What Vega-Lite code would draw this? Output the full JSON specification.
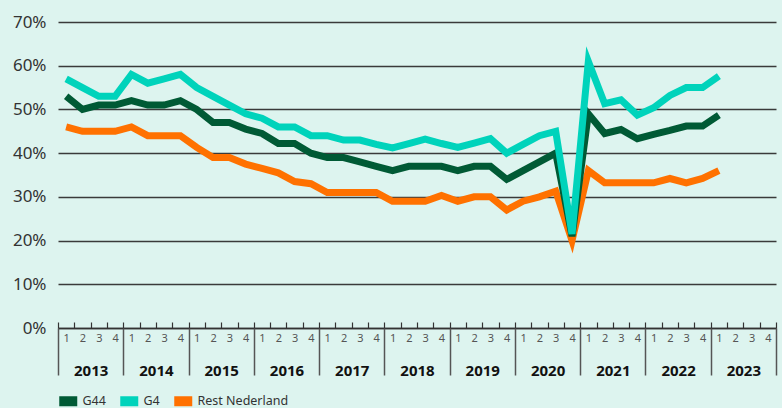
{
  "$schema": "https://vega.github.io/schema/vega-lite/v6.json",
  "width": 718,
  "height": 306,
  "autosize": {"type": "none"},
  "padding": {"left": 58, "top": 22, "right": 6, "bottom": 80},
  "background": "#ddf4ef",
  "config": {"view": {"stroke": null}, "font": "Noto Sans"},
  "layer": [
    {
      "data": {"values": [
        {"q":"2013-1","s":"Rest Nederland","v":46},{"q":"2013-2","s":"Rest Nederland","v":45},{"q":"2013-3","s":"Rest Nederland","v":45},{"q":"2013-4","s":"Rest Nederland","v":45},
        {"q":"2014-1","s":"Rest Nederland","v":46},{"q":"2014-2","s":"Rest Nederland","v":44},{"q":"2014-3","s":"Rest Nederland","v":44},{"q":"2014-4","s":"Rest Nederland","v":44},
        {"q":"2015-1","s":"Rest Nederland","v":41.3},{"q":"2015-2","s":"Rest Nederland","v":39},{"q":"2015-3","s":"Rest Nederland","v":39},{"q":"2015-4","s":"Rest Nederland","v":37.5},
        {"q":"2016-1","s":"Rest Nederland","v":36.5},{"q":"2016-2","s":"Rest Nederland","v":35.5},{"q":"2016-3","s":"Rest Nederland","v":33.5},{"q":"2016-4","s":"Rest Nederland","v":33},
        {"q":"2017-1","s":"Rest Nederland","v":31},{"q":"2017-2","s":"Rest Nederland","v":31},{"q":"2017-3","s":"Rest Nederland","v":31},{"q":"2017-4","s":"Rest Nederland","v":31},
        {"q":"2018-1","s":"Rest Nederland","v":29},{"q":"2018-2","s":"Rest Nederland","v":29},{"q":"2018-3","s":"Rest Nederland","v":29},{"q":"2018-4","s":"Rest Nederland","v":30.3},
        {"q":"2019-1","s":"Rest Nederland","v":29},{"q":"2019-2","s":"Rest Nederland","v":30},{"q":"2019-3","s":"Rest Nederland","v":30},{"q":"2019-4","s":"Rest Nederland","v":27},
        {"q":"2020-1","s":"Rest Nederland","v":29},{"q":"2020-2","s":"Rest Nederland","v":30},{"q":"2020-3","s":"Rest Nederland","v":31.3},{"q":"2020-4","s":"Rest Nederland","v":20},
        {"q":"2021-1","s":"Rest Nederland","v":36},{"q":"2021-2","s":"Rest Nederland","v":33.2},{"q":"2021-3","s":"Rest Nederland","v":33.2},{"q":"2021-4","s":"Rest Nederland","v":33.2},
        {"q":"2022-1","s":"Rest Nederland","v":33.2},{"q":"2022-2","s":"Rest Nederland","v":34.2},{"q":"2022-3","s":"Rest Nederland","v":33.2},{"q":"2022-4","s":"Rest Nederland","v":34.2},
        {"q":"2023-1","s":"Rest Nederland","v":36},
        {"q":"2013-1","s":"G44","v":53},{"q":"2013-2","s":"G44","v":50},{"q":"2013-3","s":"G44","v":51},{"q":"2013-4","s":"G44","v":51},
        {"q":"2014-1","s":"G44","v":52},{"q":"2014-2","s":"G44","v":51},{"q":"2014-3","s":"G44","v":51},{"q":"2014-4","s":"G44","v":52},
        {"q":"2015-1","s":"G44","v":50},{"q":"2015-2","s":"G44","v":47},{"q":"2015-3","s":"G44","v":47},{"q":"2015-4","s":"G44","v":45.5},
        {"q":"2016-1","s":"G44","v":44.5},{"q":"2016-2","s":"G44","v":42.2},{"q":"2016-3","s":"G44","v":42.2},{"q":"2016-4","s":"G44","v":40},
        {"q":"2017-1","s":"G44","v":39},{"q":"2017-2","s":"G44","v":39},{"q":"2017-3","s":"G44","v":38},{"q":"2017-4","s":"G44","v":37},
        {"q":"2018-1","s":"G44","v":36},{"q":"2018-2","s":"G44","v":37},{"q":"2018-3","s":"G44","v":37},{"q":"2018-4","s":"G44","v":37},
        {"q":"2019-1","s":"G44","v":36},{"q":"2019-2","s":"G44","v":37},{"q":"2019-3","s":"G44","v":37},{"q":"2019-4","s":"G44","v":34},
        {"q":"2020-1","s":"G44","v":36},{"q":"2020-2","s":"G44","v":38},{"q":"2020-3","s":"G44","v":40},{"q":"2020-4","s":"G44","v":21},
        {"q":"2021-1","s":"G44","v":49},{"q":"2021-2","s":"G44","v":44.5},{"q":"2021-3","s":"G44","v":45.4},{"q":"2021-4","s":"G44","v":43.3},
        {"q":"2022-1","s":"G44","v":44.3},{"q":"2022-2","s":"G44","v":45.2},{"q":"2022-3","s":"G44","v":46.2},{"q":"2022-4","s":"G44","v":46.2},
        {"q":"2023-1","s":"G44","v":48.7},
        {"q":"2013-1","s":"G4","v":57},{"q":"2013-2","s":"G4","v":55},{"q":"2013-3","s":"G4","v":53},{"q":"2013-4","s":"G4","v":53},
        {"q":"2014-1","s":"G4","v":58},{"q":"2014-2","s":"G4","v":56},{"q":"2014-3","s":"G4","v":57},{"q":"2014-4","s":"G4","v":58},
        {"q":"2015-1","s":"G4","v":55},{"q":"2015-2","s":"G4","v":53},{"q":"2015-3","s":"G4","v":51},{"q":"2015-4","s":"G4","v":49},
        {"q":"2016-1","s":"G4","v":48},{"q":"2016-2","s":"G4","v":46},{"q":"2016-3","s":"G4","v":46},{"q":"2016-4","s":"G4","v":44},
        {"q":"2017-1","s":"G4","v":44},{"q":"2017-2","s":"G4","v":43},{"q":"2017-3","s":"G4","v":43},{"q":"2017-4","s":"G4","v":42},
        {"q":"2018-1","s":"G4","v":41.2},{"q":"2018-2","s":"G4","v":42.2},{"q":"2018-3","s":"G4","v":43.2},{"q":"2018-4","s":"G4","v":42.2},
        {"q":"2019-1","s":"G4","v":41.3},{"q":"2019-2","s":"G4","v":42.3},{"q":"2019-3","s":"G4","v":43.3},{"q":"2019-4","s":"G4","v":40},
        {"q":"2020-1","s":"G4","v":42},{"q":"2020-2","s":"G4","v":44},{"q":"2020-3","s":"G4","v":45},{"q":"2020-4","s":"G4","v":21.5},
        {"q":"2021-1","s":"G4","v":61},{"q":"2021-2","s":"G4","v":51.3},{"q":"2021-3","s":"G4","v":52.2},{"q":"2021-4","s":"G4","v":48.7},
        {"q":"2022-1","s":"G4","v":50.4},{"q":"2022-2","s":"G4","v":53.2},{"q":"2022-3","s":"G4","v":55},{"q":"2022-4","s":"G4","v":55},
        {"q":"2023-1","s":"G4","v":57.6}
      ]},
      "mark": {"type": "line", "strokeWidth": 7, "strokeJoin": "miter", "strokeMiterLimit": 5},
      "encoding": {
        "x": {
          "field": "q", "type": "ordinal",
          "scale": {"type": "band", "paddingInner": 0, "paddingOuter": 0, "domain": [
            "2013-1","2013-2","2013-3","2013-4","2014-1","2014-2","2014-3","2014-4","2015-1","2015-2","2015-3","2015-4",
            "2016-1","2016-2","2016-3","2016-4","2017-1","2017-2","2017-3","2017-4","2018-1","2018-2","2018-3","2018-4",
            "2019-1","2019-2","2019-3","2019-4","2020-1","2020-2","2020-3","2020-4","2021-1","2021-2","2021-3","2021-4",
            "2022-1","2022-2","2022-3","2022-4","2023-1","2023-2","2023-3","2023-4"]},
          "axis": {
            "title": null, "orient": "bottom", "labelExpr": "split(datum.value, '-')[1]", "labelAngle": 0,
            "labelFontSize": 11, "labelColor": "#555555", "labelPadding": 10,
            "tickBand": "extent", "tickSize": -6, "tickColor": "#333333", "tickWidth": 1.2,
            "domainColor": "#333333", "domainWidth": 1.5, "grid": false
          }
        },
        "y": {
          "field": "v", "type": "quantitative",
          "scale": {"domain": [0, 70], "nice": false},
          "axis": {
            "title": null, "values": [0, 10, 20, 30, 40, 50, 60, 70], "labelExpr": "datum.value + '%'",
            "domain": false, "ticks": false, "labelPadding": 12, "labelFontSize": 17, "labelColor": "#333333",
            "gridColor": "#3a3a3a", "gridWidth": 1.5
          }
        },
        "color": {
          "field": "s", "type": "nominal",
          "scale": {"domain": ["G44", "G4", "Rest Nederland"], "range": ["#005a35", "#00d3bb", "#ff7100"]},
          "legend": {
            "title": null, "orient": "none", "legendX": 4, "legendY": 373, "direction": "horizontal",
            "gridAlign": "none", "columns": 3,
            "symbolType": "M-1.8,-1H1.8V1H-1.8Z", "symbolSize": 100, "symbolStrokeWidth": 0,
            "labelFontSize": 12.5, "labelColor": "#333333", "columnPadding": 14, "labelOffset": 8,
            "encode": {"symbols": {"update": {"fill": {"scale": "color", "field": "value"}, "strokeWidth": {"value": 0}}}}
          }
        }
      }
    },
    {
      "data": {"values": [
        {"year":"2013"},{"year":"2014"},{"year":"2015"},{"year":"2016"},{"year":"2017"},{"year":"2018"},
        {"year":"2019"},{"year":"2020"},{"year":"2021"},{"year":"2022"},{"year":"2023"}
      ]},
      "mark": {"type": "rule", "strokeOpacity": 0},
      "encoding": {
        "x": {
          "field": "year", "type": "ordinal",
          "scale": {"type": "band", "paddingInner": 0, "paddingOuter": 0},
          "axis": {
            "title": null, "orient": "bottom", "labelAngle": 0, "labelFontSize": 15, "labelFontWeight": "bold",
            "labelColor": "#111111", "tickBand": "extent", "tickSize": 47, "tickColor": "#555555", "tickWidth": 1.5,
            "domain": false, "labelPadding": -12, "grid": false
          }
        }
      }
    }
  ],
  "resolve": {"scale": {"x": "independent"}, "axis": {"x": "independent"}}
}
